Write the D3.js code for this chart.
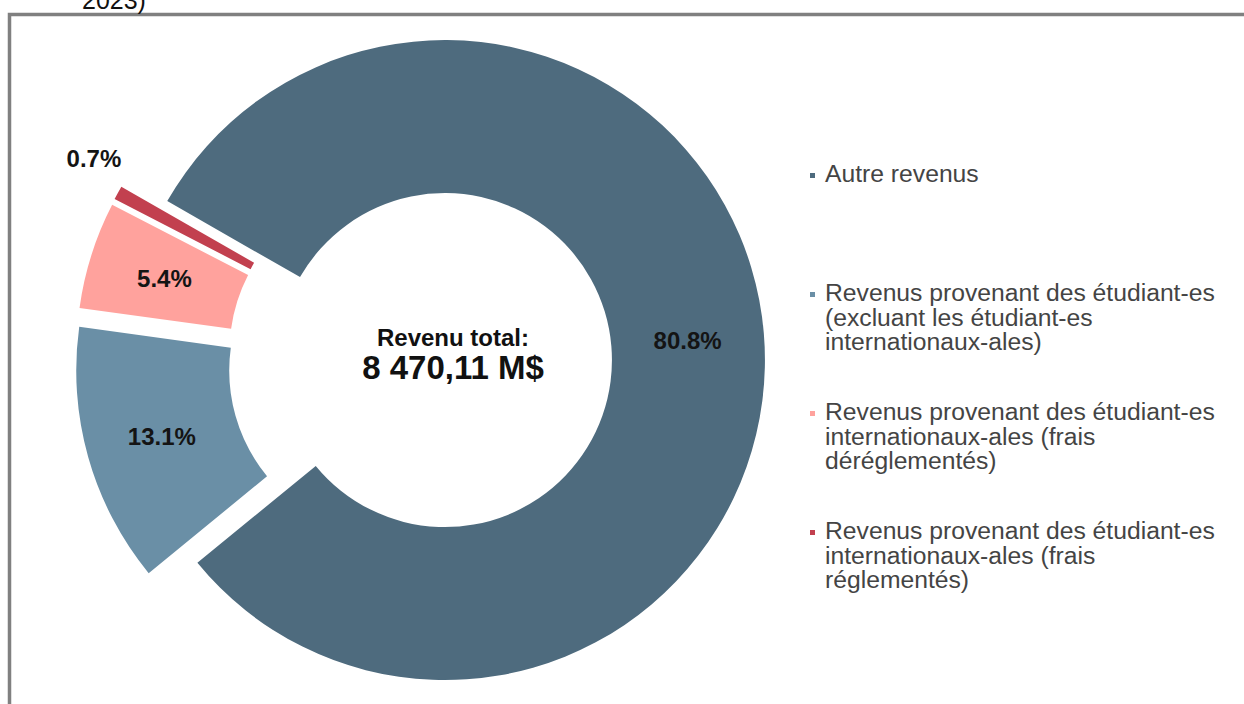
<!DOCTYPE html>
<html>
<head>
<meta charset="utf-8">
<script src="https://cdn.jsdelivr.net/npm/d3@7"></script>
<style>
  body { margin: 0; background: #fff; }
  svg { display: block; font-family: "Liberation Sans", Arial, Helvetica, sans-serif; }
</style>
</head>
<body>
<svg id="chart" width="1244" height="704"></svg>
<script>
// chart data
const categories = [
  "Autre revenus",
  "Revenus provenant des étudiant-es (excluant les étudiant-es internationaux-ales)",
  "Revenus provenant des étudiant-es internationaux-ales (frais déréglementés)",
  "Revenus provenant des étudiant-es internationaux-ales (frais réglementés)"
];
// legend text as it wraps in the picture
const legendLines = [
  ["Autre revenus"],
  ["Revenus provenant des étudiant-es", "(excluant les étudiant-es", "internationaux-ales)"],
  ["Revenus provenant des étudiant-es", "internationaux-ales (frais", "déréglementés)"],
  ["Revenus provenant des étudiant-es", "internationaux-ales (frais", "réglementés)"]
];
const shares = [80.8, 13.1, 5.4, 0.7];
const totalRevenue = 8470.11;
const titleTail = "2023)";

const colors = ["#4e6b7e", "#6a8fa6", "#ffa29d", "#c2404f"];

const svg = d3.select("#chart");
const rad = deg => deg * Math.PI / 180;

// frame
svg.append("path")
  .attr("d", "M9.5,710 L9.5,14.5 L1250,14.5")
  .attr("fill", "none")
  .attr("stroke", "#808080")
  .attr("stroke-width", 3.5);

// cut-off title tail
svg.append("text")
  .attr("x", 82).attr("y", 9)
  .style("font-size", "25px")
  .attr("fill", "#111")
  .text(titleTail);

// donut
const cx = 428, cy = 361.5;
const outerR = 320, innerR = 167;
const explode = [17, 33, 33, 33];

const pie = d3.pie().sort(null).value(d => d)
  .startAngle(rad(-60.2)).endAngle(rad(299.8));
const arc = d3.arc().innerRadius(innerR).outerRadius(outerR);

const slices = pie(shares);

const g = svg.append("g").attr("transform", `translate(${cx},${cy})`);

const sliceG = g.selectAll(".slice")
  .data(slices)
  .enter()
  .append("g")
  .attr("class", "slice")
  .attr("transform", (d, i) => {
    let mid = (d.startAngle + d.endAngle) / 2;
    return `translate(${explode[i] * Math.sin(mid)},${-explode[i] * Math.cos(mid)})`;
  });

sliceG.append("path")
  .attr("d", arc)
  .attr("fill", (d, i) => colors[i]);

sliceG.append("text")
  .attr("transform", (d, i) => {
    let mid = (d.startAngle + d.endAngle) / 2;
    if (d.data < 2) {
      // tiny slice: label sits outside, a bit past the slice
      let a = mid + rad(3), r = outerR + 38;
      return `translate(${r * Math.sin(a)},${-r * Math.cos(a)})`;
    }
    return `translate(${arc.centroid(d)})`;
  })
  .attr("text-anchor", "middle")
  .attr("dy", "0.36em")
  .style("font-size", "24px")
  .style("font-weight", "bold")
  .attr("fill", "#141414")
  .text(d => d3.format(".1f")(d.data) + "%");

// centre text
const fr = d3.formatLocale({decimal: ",", thousands: "\u00a0", grouping: [3], currency: ["", ""]});
svg.append("text")
  .attr("x", 453).attr("y", 346)
  .attr("text-anchor", "middle")
  .style("font-size", "24px")
  .style("font-weight", "bold")
  .attr("fill", "#111")
  .text("Revenu total:");
svg.append("text")
  .attr("x", 453).attr("y", 379)
  .attr("text-anchor", "middle")
  .style("font-size", "33px")
  .style("font-weight", "bold")
  .attr("fill", "#111")
  .text(fr.format(",.2f")(totalRevenue) + " M$");

// legend
const legend = svg.append("g").attr("transform", "translate(810,182)");
const item = legend.selectAll(".item")
  .data(categories)
  .enter()
  .append("g")
  .attr("class", "item")
  .attr("transform", (d, i) => `translate(0,${i * 119})`);

item.append("rect")
  .attr("x", 0).attr("y", -9)
  .attr("width", 5).attr("height", 5)
  .attr("fill", (d, i) => colors[i]);

item.append("text")
  .attr("x", 15)
  .style("font-size", "24.7px")
  .attr("fill", "#444")
  .selectAll("tspan")
  .data((d, i) => legendLines[i])
  .enter()
  .append("tspan")
  .attr("x", 15)
  .attr("dy", (d, j) => j === 0 ? 0 : 24.5)
  .text(d => d);
</script>
</body>
</html>
